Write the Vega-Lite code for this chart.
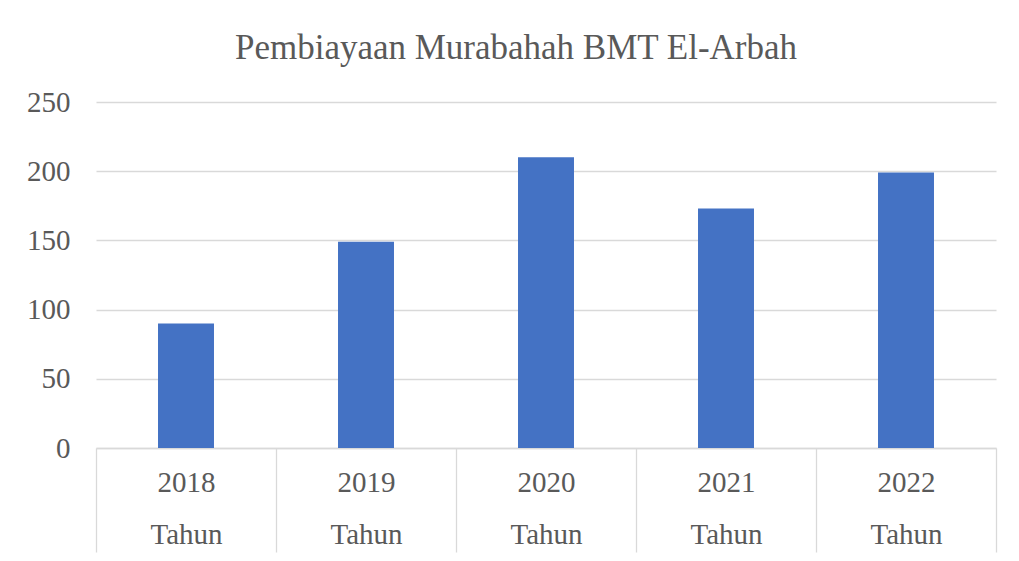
{
  "$schema": "https://vega.github.io/schema/vega-lite/v6.json",
  "autosize": "none",
  "width": 900,
  "height": 346,
  "padding": {"left": 96, "top": 102, "right": 23, "bottom": 113},
  "background": "white",
  "title": {
    "text": "Pembiayaan Murabahah BMT El-Arbah",
    "font": "Liberation Serif",
    "fontSize": 35,
    "fontWeight": "normal",
    "color": "#595959",
    "frame": "group",
    "anchor": "middle",
    "baseline": "alphabetic",
    "offset": -6,
    "dx": -30
  },
  "data": {
    "values": [
      {"tahun": "2018", "nilai": 90},
      {"tahun": "2019", "nilai": 149},
      {"tahun": "2020", "nilai": 210},
      {"tahun": "2021", "nilai": 173},
      {"tahun": "2022", "nilai": 199}
    ]
  },
  "mark": {"type": "bar", "color": "#4472C4", "width": {"band": 0.311}},
  "encoding": {
    "x": {
      "field": "tahun",
      "type": "nominal",
      "sort": null,
      "scale": {"paddingInner": 0, "paddingOuter": 0},
      "axis": {
        "title": null,
        "labelAngle": 0,
        "labelExpr": "datum.label ? [datum.label, 'Tahun'] : ''",
        "labelLineHeight": 52,
        "labelFont": "Liberation Serif",
        "labelFontSize": 29,
        "labelColor": "#595959",
        "labelBaseline": "top",
        "labelPadding": -84,
        "tickBand": "extent",
        "tickSize": 104,
        "tickColor": "#D9D9D9",
        "tickWidth": 1.3,
        "domainColor": "#D9D9D9",
        "domainWidth": 1.3,
        "grid": false
      }
    },
    "y": {
      "field": "nilai",
      "type": "quantitative",
      "scale": {"domain": [0, 250], "nice": false},
      "axis": {
        "title": null,
        "values": [0, 50, 100, 150, 200, 250],
        "domain": false,
        "ticks": false,
        "labelPadding": 26,
        "labelFont": "Liberation Serif",
        "labelFontSize": 29,
        "labelColor": "#595959",
        "gridColor": "#D9D9D9",
        "gridWidth": 1.3
      }
    }
  },
  "config": {"view": {"stroke": null}}
}
